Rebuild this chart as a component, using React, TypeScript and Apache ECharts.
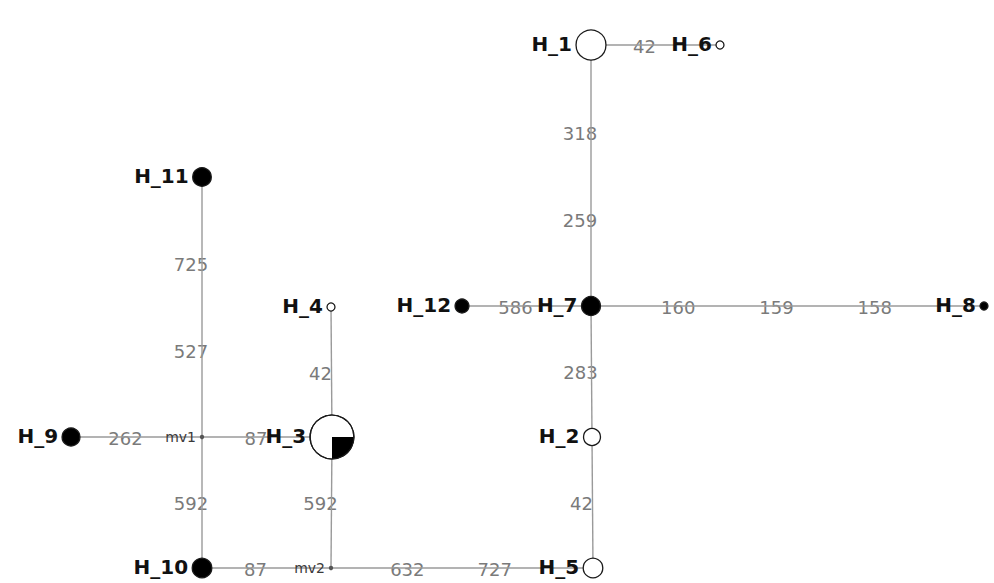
import React, { useEffect, useRef } from "react";
import * as echarts from "echarts";

// Haplotype network: nodes (layout coordinates), frequencies and share of the black group
const nodeNames = ["H_1", "H_2", "H_3", "H_4", "H_5", "H_6", "H_7", "H_8", "H_9", "H_10", "H_11", "H_12", "mv1", "mv2"];
const nodeX = [591, 592, 332, 331, 593, 720, 591, 984, 71, 202, 202, 462, 202, 331];
const nodeY = [45, 437, 437, 307, 568, 45, 306, 306, 437, 568, 177, 306, 437, 568];
const nodeCount = [14, 4.5, 30, 1, 6, 1, 5.6, 1, 5, 6, 5.4, 3, 0, 0];
const nodeBlackShare = [0, 0, 0.25, 0, 0, 0, 1, 1, 1, 1, 1, 1, 1, 1];

// Edges and mutation labels along them
const edgeFrom = ["H_1", "H_1", "H_12", "H_7", "H_7", "H_2", "H_4", "H_11", "H_9", "mv1", "mv1", "H_10", "H_3", "mv2"];
const edgeTo = ["H_6", "H_7", "H_7", "H_8", "H_2", "H_5", "H_3", "mv1", "mv1", "H_3", "H_10", "mv2", "mv2", "H_5"];
const edgeLabels: string[][] = [
  ["42"],
  ["318", "259"],
  ["586"],
  ["160", "159", "158"],
  ["283"],
  ["42"],
  ["42"],
  ["725", "527"],
  ["262"],
  ["87"],
  ["592"],
  ["87"],
  ["592"],
  ["632", "727"],
];

const FONT = "'DejaVu Sans', Verdana, sans-serif";

function radiusOf(count: number): number {
  return count > 0 ? 4 * Math.sqrt(count) : 2.2;
}

export default function App() {
  const ref = useRef<HTMLDivElement>(null);

  useEffect(() => {
    if (!ref.current) return;
    const chart = echarts.init(ref.current, undefined, { renderer: "svg" });

    const idx = (n: string) => nodeNames.indexOf(n);
    const edgeData = edgeFrom.map((f, i) => {
      const a = idx(f);
      const b = idx(edgeTo[i]);
      return [nodeX[a], nodeY[a], nodeX[b], nodeY[b]];
    });
    const nodeData = nodeNames.map((_, i) => [nodeX[i], nodeY[i], nodeCount[i], nodeBlackShare[i]]);

    chart.setOption({
      animation: false,
      backgroundColor: "#ffffff",
      grid: { left: 0, right: 0, top: 0, bottom: 0 },
      xAxis: { type: "value", min: 0, max: 994, show: false },
      yAxis: { type: "value", min: 0, max: 583, inverse: true, show: false },
      series: [
        {
          type: "custom",
          name: "edges",
          coordinateSystem: "cartesian2d",
          clip: false,
          z: 1,
          encode: { x: [0, 2], y: [1, 3] },
          data: edgeData,
          renderItem: (params: any, api: any) => {
            const p1 = api.coord([api.value(0), api.value(1)]);
            const p2 = api.coord([api.value(2), api.value(3)]);
            const labels = edgeLabels[params.dataIndex];
            const n = labels.length;
            const children: any[] = labels.map((t, k) => {
              const f = (k + 1) / (n + 1);
              return {
                type: "text",
                x: p1[0] + (p2[0] - p1[0]) * f - 11,
                y: p1[1] + (p2[1] - p1[1]) * f + 1,
                style: {
                  text: t,
                  fill: "#7a7a7a",
                  fontSize: 18,
                  fontFamily: FONT,
                  align: "center",
                  verticalAlign: "middle",
                },
              };
            });
            children.push({
              type: "line",
              shape: { x1: p1[0], y1: p1[1], x2: p2[0], y2: p2[1] },
              style: { stroke: "#9a9a9a", lineWidth: 1.4 },
            });
            return { type: "group", children };
          },
        },
        {
          type: "custom",
          name: "nodes",
          coordinateSystem: "cartesian2d",
          clip: false,
          z: 2,
          encode: { x: 0, y: 1 },
          data: nodeData,
          renderItem: (params: any, api: any) => {
            const i = params.dataIndex;
            const p = api.coord([api.value(0), api.value(1)]);
            const count = api.value(2);
            const share = api.value(3);
            const r = radiusOf(count);
            const isMv = count <= 0;
            const children: any[] = [];
            if (isMv) {
              children.push({
                type: "circle",
                shape: { cx: p[0], cy: p[1], r },
                style: { fill: "#555555" },
              });
              children.push({
                type: "text",
                x: p[0] - 6,
                y: p[1],
                style: {
                  text: nodeNames[i],
                  fill: "#3a3a3a",
                  fontSize: 14,
                  fontFamily: FONT,
                  align: "right",
                  verticalAlign: "middle",
                },
              });
            } else {
              children.push({
                type: "circle",
                shape: { cx: p[0], cy: p[1], r },
                style: { fill: share >= 1 ? "#000000" : "#ffffff", stroke: "#1a1a1a", lineWidth: 1.3 },
              });
              if (share > 0 && share < 1) {
                children.push({
                  type: "sector",
                  shape: { cx: p[0], cy: p[1], r0: 0, r, startAngle: 0, endAngle: share * Math.PI * 2, clockwise: true },
                  style: { fill: "#000000" },
                });
                children.push({
                  type: "circle",
                  shape: { cx: p[0], cy: p[1], r },
                  style: { fill: "none", stroke: "#1a1a1a", lineWidth: 1.3 },
                });
              }
              children.push({
                type: "text",
                x: p[0] - r - 4,
                y: p[1] - 1,
                style: {
                  text: nodeNames[i],
                  fill: "#111111",
                  fontSize: 20,
                  fontWeight: "bold",
                  fontFamily: FONT,
                  align: "right",
                  verticalAlign: "middle",
                },
              });
            }
            return { type: "group", children };
          },
        },
      ],
    });

    return () => chart.dispose();
  }, []);

  return (
    <div
      ref={ref}
      style={{ position: "absolute", left: 0, top: 0, width: 994, height: 583, background: "#fff" }}
    />
  );
}
